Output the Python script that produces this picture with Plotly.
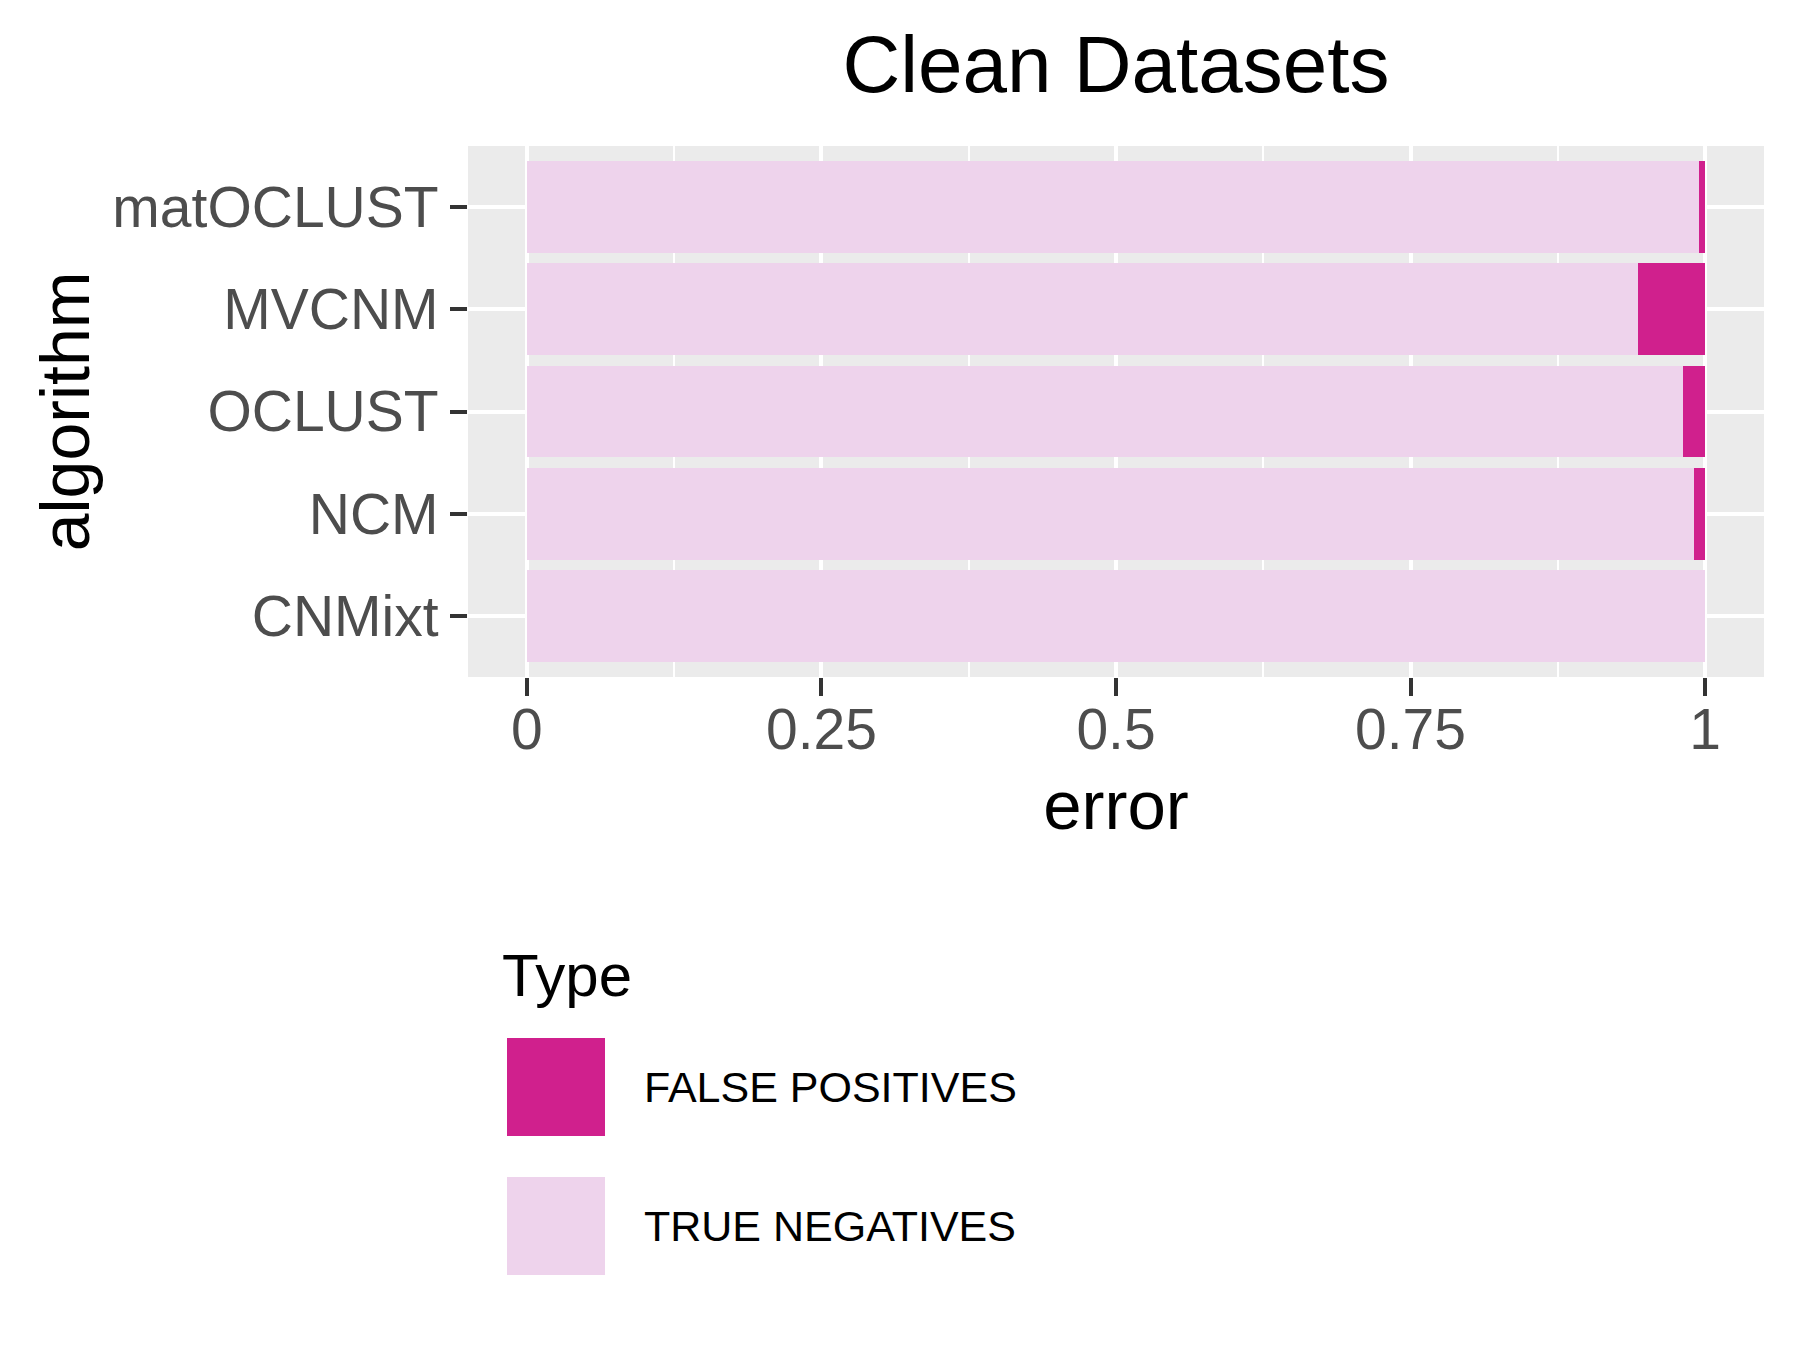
import plotly.graph_objs as go

algorithms = ['CNMixt', 'NCM', 'OCLUST', 'MVCNM', 'matOCLUST']
true_negatives = [1.000, 0.991, 0.981, 0.943, 0.995]
false_positives = [0.000, 0.009, 0.019, 0.057, 0.005]
types = ['FALSE POSITIVES', 'TRUE NEGATIVES']
x_ticks = [0, 0.25, 0.5, 0.75, 1]
x_tick_labels = ['0', '0.25', '0.5', '0.75', '1']

colors = {
    'FALSE POSITIVES': '#D0208D',
    'TRUE NEGATIVES': '#EED3EC',
    'panel': '#EBEBEB',
    'tick': '#333333',
    'ticklabel': '#4D4D4D',
}
FONT = 'Liberation Sans, Arial, Helvetica, sans-serif'

W, H = 1798, 1349
L, R, T, B = 468, 34, 146, 672
pw, ph = W - L - R, H - T - B


def px_x(x):
    return (x - L) / pw


def px_y(y):
    return (H - B - y) / ph


fig = go.Figure()
# stacked left to right: true negatives first, false positives at the end
fig.add_trace(go.Bar(
    y=algorithms, x=true_negatives, orientation='h', width=0.9,
    name='TRUE NEGATIVES', marker=dict(color=colors['TRUE NEGATIVES'], line=dict(width=0)),
    showlegend=False,
))
fig.add_trace(go.Bar(
    y=algorithms, x=false_positives, orientation='h', width=0.9,
    name='FALSE POSITIVES', marker=dict(color=colors['FALSE POSITIVES'], line=dict(width=0)),
    showlegend=False,
))

# legend drawn by hand to get ggplot-sized keys
shapes = []
annotations = []
key_top = [1038, 1177]
for t, top in zip(types, key_top):
    shapes.append(dict(
        type='rect', xref='paper', yref='paper', layer='above',
        x0=px_x(507), x1=px_x(605), y0=px_y(top), y1=px_y(top + 98),
        fillcolor=colors[t], line=dict(width=0),
    ))
    annotations.append(dict(
        text=t, xref='paper', yref='paper', x=px_x(642), y=px_y(top + 49),
        xanchor='left', yanchor='middle', showarrow=False,
        font=dict(family=FONT, size=43, color='black'),
    ))
annotations.append(dict(
    text='Type', xref='paper', yref='paper', x=px_x(500), y=px_y(975),
    xanchor='left', yanchor='middle', showarrow=False,
    font=dict(family=FONT, size=60, color='black'),
))

fig.update_layout(
    width=W, height=H,
    barmode='stack',
    bargap=0.1,
    paper_bgcolor='white',
    plot_bgcolor=colors['panel'],
    margin=dict(l=L, r=R, t=T, b=B, pad=0),
    font=dict(family=FONT, color='black'),
    title=dict(
        text='Clean Datasets', x=(L + pw / 2) / W, xanchor='center',
        y=1 - 64 / H, yanchor='middle', yref='container',
        font=dict(family=FONT, size=80, color='black'),
    ),
    xaxis=dict(
        range=[-0.05, 1.05],
        tickvals=x_ticks, ticktext=x_tick_labels,
        showgrid=True, gridcolor='white', gridwidth=4,
        minor=dict(tick0=0.125, dtick=0.25, showgrid=True, gridcolor='white', gridwidth=2),
        zeroline=False, showline=False,
        ticks='outside', ticklen=18, tickwidth=4, tickcolor=colors['tick'],
        tickfont=dict(family=FONT, size=57, color=colors['ticklabel']),
        ticklabelstandoff=-15,
        title=dict(text='error', font=dict(family=FONT, size=69, color='black'), standoff=20),
    ),
    yaxis=dict(
        range=[-0.6, 4.6],
        categoryorder='array', categoryarray=algorithms,
        showgrid=True, gridcolor='white', gridwidth=4,
        zeroline=False, showline=False,
        ticks='outside', ticklen=17, tickwidth=4, tickcolor=colors['tick'],
        tickfont=dict(family=FONT, size=57, color=colors['ticklabel']),
        ticklabelstandoff=0,
        title=dict(text='algorithm', font=dict(family=FONT, size=68, color='black'), standoff=0),
    ),
    shapes=shapes,
    annotations=annotations,
)

fig.write_html("out.html", config={'displayModeBar': False},
               post_script="document.body.style.margin='0';")
